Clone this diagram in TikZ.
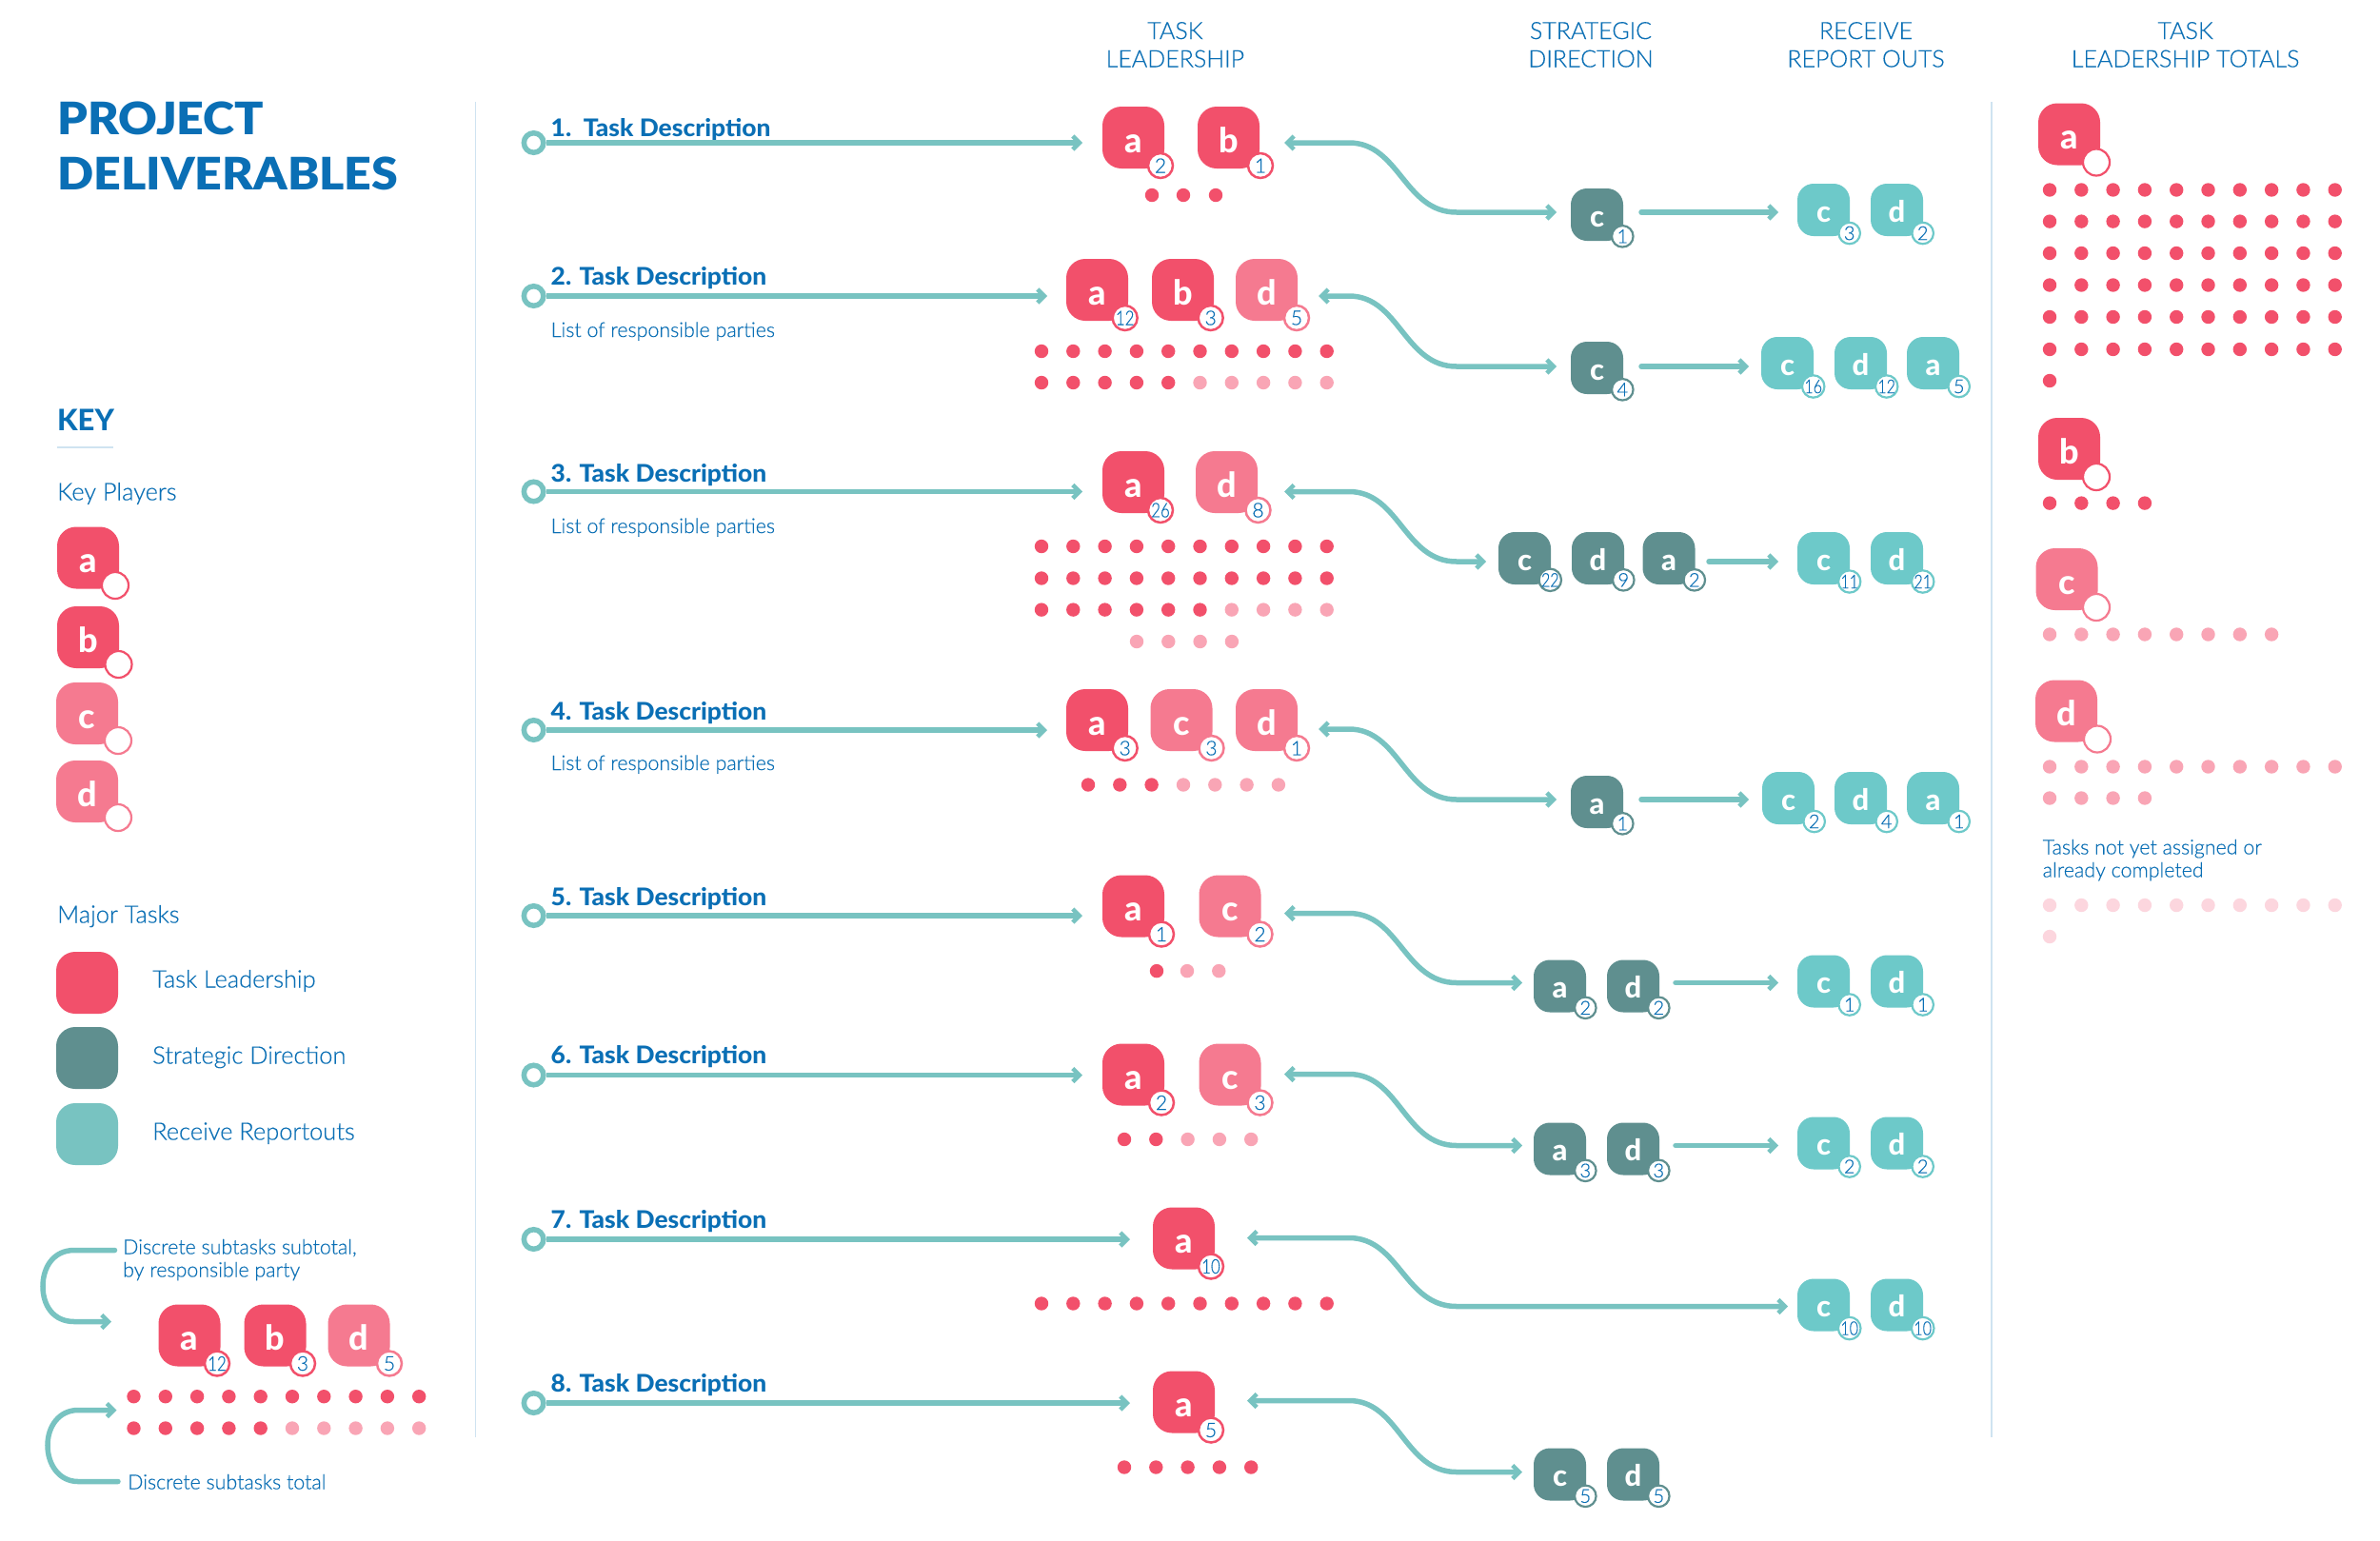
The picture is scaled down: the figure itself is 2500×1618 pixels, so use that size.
\documentclass[tikz,border=0pt]{standalone}
\usepackage{fontspec}
\usepackage{graphicx}
\usetikzlibrary{arrows.meta}
\setmainfont{Lato}
\newfontfamily\lite[FakeBold=0.35]{Lato Light}
\newfontfamily\heavy{Lato Heavy}
\newfontfamily\taskf[FakeStretch=1.035]{Lato Heavy}
\newfontfamily\blackf[FakeStretch=1.067]{Lato Black}
\definecolor{ink}{HTML}{0A6FB5}
\definecolor{redd}{HTML}{F2506B}
\definecolor{pinkk}{HTML}{F57A90}
\definecolor{pale}{HTML}{F9A5B5}
\definecolor{paler}{HTML}{FCD6DE}
\definecolor{dteal}{HTML}{5F8F8F}
\definecolor{lteal}{HTML}{6DC9C9}
\definecolor{mteal}{HTML}{78C3C1}
\definecolor{conn}{HTML}{78C3C1}
\definecolor{rule}{HTML}{CFE3F1}
\newcommand{\fs}[1]{\fontsize{#1}{#1}\selectfont}
\newcommand{\nn}[1]{\scalebox{.8}[1]{#1}}
\tikzset{
  bigtile/.style={rectangle,rounded corners=20pt,minimum size=65pt,inner sep=0pt,text=white,font=\heavy\fs{36},text height=31pt,text depth=0pt},
  smalltile/.style={rectangle,rounded corners=17pt,minimum size=55pt,inner sep=0pt,text=white,font=\heavy\fs{31},text height=25pt,text depth=0pt},
  bigcount/.style={circle,minimum size=26pt,inner sep=0pt,line width=2.5pt,fill=white,text=ink,font=\lite\fs{21}},
  smallcount/.style={circle,minimum size=22.5pt,inner sep=0pt,line width=2.2pt,fill=white,text=ink,font=\lite\fs{20}},
  emptycount/.style={circle,minimum size=28pt,inner sep=0pt,line width=2.2pt,fill=white},
  connector/.style={draw=conn,line width=5.5pt},
  barb/.tip={Straight Barb[length=7pt,width=14pt,line width=4.5pt]},
  ring/.style={circle,draw=conn,line width=5.5pt,fill=white,minimum size=20.5pt,inner sep=0pt},
  tasktitle/.style={anchor=base west,inner sep=0pt,text=ink,font=\taskf\fs{25.5}},
  note/.style={anchor=base west,inner sep=0pt,text=ink,font=\lite\fs{21.4}},
  keytext/.style={anchor=base west,inner sep=0pt,text=ink,font=\lite\fs{25.4}},
  head/.style={anchor=base,inner sep=0pt,text=ink,font=\lite\fs{25}},
}
% name,x,y,letter,colour,count x offset,count
\newcommand{\bigt}[7]{%
  \node[bigtile,fill=#5] (#1) at ({#2+32.5},{#3+32.5}) {#4};
  \node[bigcount,draw=#5] (#1n) at ({#2+#6},{#3+62}) {#7};}
\newcommand{\smallt}[6]{%
  \node[smalltile,fill=#5] (#1) at ({#2+27.5},{#3+27.5}) {#4};
  \node[smallcount,draw=#5] (#1n) at ({#2+54.3},{#3+50.3}) {#6};}
\newcommand{\reportt}[6]{%
  \node[smalltile,fill=#5] (#1) at ({#2+27.5},{#3+27.5}) {#4};
  \node[smallcount,draw=#5] (#1n) at ({#2+54.7},{#3+52}) {#6};}
% name,x,y,letter,colour,cx,cy
\newcommand{\keyt}[7]{%
  \node[bigtile,fill=#5] (#1) at ({#2+32.5},{#3+32.5}) {#4};
  \node[emptycount,draw=#5] (#1n) at (#6,#7) {};}
% x0,y,n,colour
\newcommand{\dotrow}[4]{%
  \foreach \i in {1,...,#3}{\fill[#4] ({#1+(\i-1)*33.3},#2) circle (7.2pt);}}
% row,y,tip
\newcommand{\taskline}[3]{%
  \node[ring] (ring#1) at (560.6,#2) {};
  \coordinate (end#1) at (#3,#2);
  \draw[connector,-{barb}] (ring#1) -- (end#1);}
% name,tipx,y1,y2,targetx
\newcommand{\scurve}[5]{%
  \coordinate (#1a) at (#2,#3);
  \coordinate (#1b) at (#5,#4);
  \draw[connector,{barb}-{barb}] (#1a) -- (1417,#3) .. controls (1470,#3) and (1475,#4) .. (1530,#4) -- (#1b);}
% name,x1,x2,y
\newcommand{\straight}[4]{%
  \coordinate (#1a) at (#2,#4);
  \coordinate (#1b) at (#3,#4);
  \draw[connector,line cap=round,-{barb}] (#1a) -- (#1b);}
\begin{document}
\begin{tikzpicture}[x=1pt,y=-1pt]
\useasboundingbox[fill=white] (0,0) rectangle (2500,1618);
% dividers
\coordinate (d1a) at (499.5,107); \coordinate (d1b) at (499.5,1510);
\coordinate (d2a) at (2092,107); \coordinate (d2b) at (2092,1510);
\draw[rule,line width=1.6pt] (d1a) -- (d1b);
\draw[rule,line width=1.6pt] (d2a) -- (d2b);
% headers
\node[inner sep=0pt,anchor=base west,text=ink,font=\blackf\fs{47}] (t1) at (60,141) {PROJECT};
\node[inner sep=0pt,anchor=base west,text=ink,font=\blackf\fs{47}] (t2) at (60,199) {DELIVERABLES};
\node[head] (h1a) at (1234.4,41) {TASK};
\node[head] (h1b) at (1234.4,70.5) {LEADERSHIP};
\node[head] (h2a) at (1671,41) {STRATEGIC};
\node[head] (h2b) at (1671,70.5) {DIRECTION};
\node[head] (h3a) at (1960,41) {RECEIVE};
\node[head] (h3b) at (1960,70.5) {REPORT OUTS};
\node[head] (h4a) at (2295.6,41) {TASK};
\node[head] (h4b) at (2295.6,70.5) {LEADERSHIP TOTALS};
% key
\node[inner sep=0pt,anchor=base west,text=ink,font=\heavy\fs{31}] (key) at (60,452) {KEY};
\coordinate (kua) at (60,470); \coordinate (kub) at (119,470);
\draw[rule,line width=1.6pt] (kua) -- (kub);
\node[keytext] (kp) at (60,525.5) {Key Players};
\keyt{ka}{60}{553.5}{a}{redd}{121}{615}
\keyt{kb}{60}{637}{b}{redd}{124.5}{698}
\keyt{kc}{59}{717}{c}{pinkk}{124}{778}
\keyt{kd}{59}{799}{d}{pinkk}{124}{859}
\node[keytext] (mt) at (60,969.5) {Major Tasks};
\node[bigtile,fill=redd] (m1) at (91.5,1032.5) {};
\node[bigtile,fill=dteal] (m2) at (91.5,1111.5) {};
\node[bigtile,fill=mteal] (m3) at (91.5,1191.5) {};
\node[keytext] (m1t) at (160,1037.5) {Task Leadership};
\node[keytext] (m2t) at (160,1117.5) {Strategic Direction};
\node[keytext] (m3t) at (160,1197.5) {Receive Reportouts};
% legend
\begin{scope}[yshift=-1.5pt]
\node[note] (l1) at (129,1316) {Discrete subtasks subtotal,};
\node[note] (l2) at (129,1340) {by responsible party};
\node[note] (l3) at (134,1563) {Discrete subtasks total};
\coordinate (la1) at (120.5,1312); \coordinate (la2) at (117,1387);
\coordinate (lb1) at (124,1555); \coordinate (lb2) at (122.5,1480);
\draw[connector,line cap=round,-{barb}] (la1) -- (78,1312) .. controls (56,1312) and (45,1330) .. (45,1350) .. controls (45,1370) and (56,1387) .. (78,1387) -- (la2);
\draw[connector,line cap=round,-{barb}] (lb1) -- (82,1555) .. controls (62,1555) and (50,1537) .. (50,1517) .. controls (50,1497) and (62,1480) .. (82,1480) -- (lb2);
\bigt{la}{166.5}{1369}{a}{redd}{61.5}{\nn{12}}
\bigt{lb}{256.5}{1369}{b}{redd}{61.5}{3}
\bigt{ld}{344.5}{1369}{d}{pinkk}{64.5}{5}
\dotrow{140.5}{1465.7}{10}{redd}
\dotrow{140.5}{1499}{5}{redd}
\dotrow{307}{1499}{5}{pale}
\end{scope}
% task titles
\node[tasktitle] (n1) at (578.5,143) {1.\ \ Task Description};
\node[tasktitle] (n2) at (578.5,299.5) {2. Task Description};
\node[tasktitle] (n3) at (578.5,506) {3. Task Description};
\node[tasktitle] (n4) at (578.5,756.5) {4. Task Description};
\node[tasktitle] (n5) at (578.5,951.5) {5. Task Description};
\node[tasktitle] (n6) at (578.5,1117) {6. Task Description};
\node[tasktitle] (n7) at (578.5,1290) {7. Task Description};
\node[tasktitle] (n8) at (578.5,1462) {8. Task Description};
\node[note] (p2) at (578.5,354) {List of responsible parties};
\node[note] (p3) at (578.5,560) {List of responsible parties};
\node[note] (p4) at (578.5,809) {List of responsible parties};
% task lines
\taskline{1}{150}{1137}
\taskline{2}{311}{1100}
\taskline{3}{516.5}{1137}
\taskline{4}{767}{1100}
\taskline{7}{1302}{1187}
\taskline{5}{962}{1137}
\taskline{6}{1129.5}{1137}
\taskline{8}{1474}{1187}
% row 1
\bigt{a1}{1158}{112}{a}{redd}{61}{2}
\bigt{b1}{1258}{112}{b}{redd}{66}{1}
\foreach \x in {1210,1243,1277}{\fill[redd] (\x,205) circle (7.2pt);}
\scurve{c1}{1349}{150}{223}{1635}
\smallt{s1c}{1650}{198}{c}{dteal}{1}
\straight{e1}{1724}{1868}{223}
\reportt{r1c}{1888}{193}{c}{lteal}{3}
\reportt{r1d}{1965}{193}{d}{lteal}{2}
% row 2
\bigt{a2}{1120}{272}{a}{redd}{61.7}{\nn{12}}
\bigt{b2}{1210}{272}{b}{redd}{61.7}{3}
\bigt{d2}{1298}{272}{d}{pinkk}{64}{5}
\dotrow{1094}{369}{10}{redd}
\dotrow{1094}{402}{5}{redd}
\dotrow{1260.5}{402}{5}{pale}
\scurve{c2}{1385}{311}{385}{1635}
\smallt{s2c}{1650}{359}{c}{dteal}{4}
\straight{e2}{1724}{1837}{385}
\reportt{r2c}{1850}{354}{c}{lteal}{\nn{16}}
\reportt{r2d}{1927}{354}{d}{lteal}{\nn{12}}
\reportt{r2a}{2003}{354}{a}{lteal}{5}
% row 3
\bigt{a3}{1158}{474}{a}{redd}{61}{\nn{26}}
\bigt{d3}{1256}{474}{d}{pinkk}{65.5}{8}
\dotrow{1094}{574}{10}{redd}
\dotrow{1094}{607.5}{10}{redd}
\dotrow{1094}{640.6}{6}{redd}
\dotrow{1293.8}{640.6}{4}{pale}
\dotrow{1194}{674}{4}{pale}
\scurve{c3}{1349}{516.5}{590}{1561}
\smallt{s3c}{1574}{559}{c}{dteal}{\nn{22}}
\smallt{s3d}{1651}{559}{d}{dteal}{9}
\smallt{s3a}{1725.5}{559}{a}{dteal}{2}
\straight{e3}{1795}{1868}{590}
\reportt{r3c}{1888}{559}{c}{lteal}{\nn{11}}
\reportt{r3d}{1965}{559}{d}{lteal}{\nn{21}}
% row 4
\bigt{a4}{1120}{724}{a}{redd}{61.7}{3}
\bigt{c4}{1208.5}{724}{c}{pinkk}{64}{3}
\bigt{d4}{1298}{724}{d}{pinkk}{64}{1}
\dotrow{1143}{824.5}{3}{redd}
\dotrow{1243}{824.5}{4}{pale}
\scurve{c4c}{1385}{766}{840}{1635}
\smallt{s4a}{1650}{815}{a}{dteal}{1}
\straight{e4}{1724}{1837}{840}
\reportt{r4c}{1851}{811}{c}{lteal}{2}
\reportt{r4d}{1927}{811}{d}{lteal}{4}
\reportt{r4a}{2003}{811}{a}{lteal}{1}
\begin{scope}[yshift=-1.5pt]
% row 5
\bigt{a5}{1158}{918}{a}{redd}{62}{1}
\bigt{c5}{1259.5}{918}{c}{pinkk}{64}{2}
\dotrow{1215}{1018.6}{1}{redd}
\dotrow{1247}{1018.6}{2}{pale}
\scurve{c5c}{1349}{958}{1031}{1599}
\smallt{s5a}{1611}{1007}{a}{dteal}{2}
\smallt{s5d}{1688}{1007}{d}{dteal}{2}
\straight{e5}{1760}{1868}{1031}
\reportt{r5c}{1888}{1002}{c}{lteal}{1}
\reportt{r5d}{1965}{1002}{d}{lteal}{1}
% row 6
\bigt{a6}{1158}{1095}{a}{redd}{62}{2}
\bigt{c6}{1259.5}{1095}{c}{pinkk}{64}{3}
\dotrow{1181}{1195.5}{2}{redd}
\dotrow{1247.6}{1195.5}{3}{pale}
\scurve{c6c}{1349}{1127}{1202}{1599}
\smallt{s6a}{1611}{1178}{a}{dteal}{3}
\smallt{s6d}{1688}{1178}{d}{dteal}{3}
\straight{e6}{1760}{1868}{1202}
\reportt{r6c}{1888}{1172}{c}{lteal}{2}
\reportt{r6d}{1965}{1172}{d}{lteal}{2}
% row 7
\bigt{a7}{1211}{1267}{a}{redd}{61}{\nn{10}}
\dotrow{1094}{1368}{10}{redd}
\scurve{c7c}{1310}{1299}{1371}{1878}
\reportt{r7c}{1888}{1342}{c}{lteal}{\nn{10}}
\reportt{r7d}{1965}{1342}{d}{lteal}{\nn{10}}
% row 8
\bigt{a8}{1211}{1439}{a}{redd}{61}{5}
\dotrow{1181}{1540}{5}{redd}
\scurve{c8c}{1310}{1470}{1545}{1599}
\smallt{s8c}{1611}{1520}{c}{dteal}{5}
\smallt{s8d}{1688}{1520}{d}{dteal}{5}
\end{scope}
% totals
\keyt{ta}{2141}{108.5}{a}{redd}{2202}{170.5}
\foreach \y in {199.5,232.6,266,299.5,333,367}{\dotrow{2153}{\y}{10}{redd}}
\dotrow{2153}{400}{1}{redd}
\keyt{tb}{2141}{439}{b}{redd}{2202}{501}
\dotrow{2153}{528.6}{4}{redd}
\keyt{tc}{2138.5}{576}{c}{pinkk}{2202}{638}
\dotrow{2153}{666.5}{8}{pale}
\keyt{td}{2138}{714.5}{d}{pinkk}{2203}{776.5}
\dotrow{2153}{805.5}{10}{pale}
\dotrow{2153}{838.5}{4}{pale}
\node[note] (tn1) at (2145.5,897.5) {Tasks not yet assigned or};
\node[note] (tn2) at (2145.5,921.5) {already completed};
\dotrow{2153}{951}{10}{paler}
\dotrow{2153}{984}{1}{paler}
\end{tikzpicture}
\end{document}
